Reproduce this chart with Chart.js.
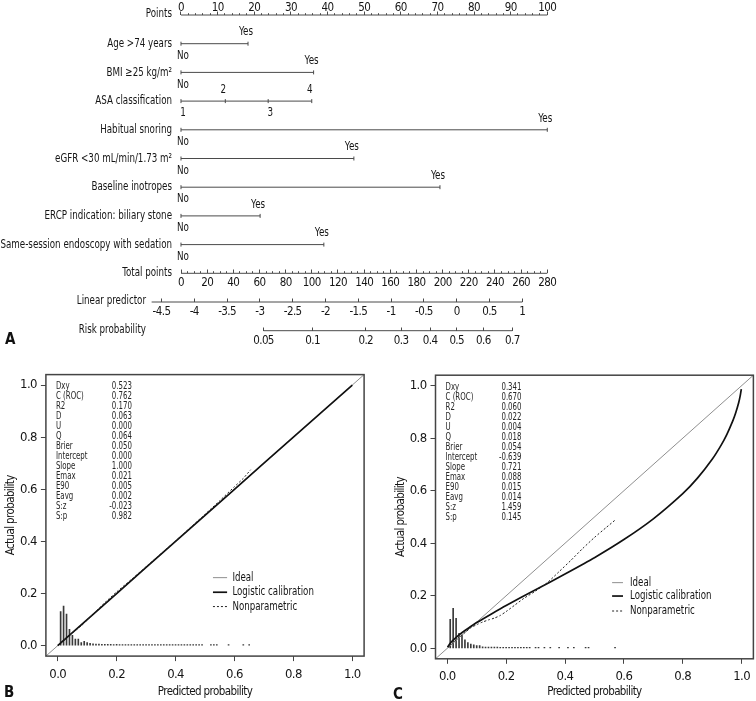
<!DOCTYPE html>
<html><head><meta charset="utf-8">
<script src="https://cdn.jsdelivr.net/npm/chart.js@4.4.1/dist/chart.umd.min.js"></script>
<style>
html,body{margin:0;padding:0;background:#fff;}
#wrap{position:relative;width:756px;height:701px;overflow:hidden;background:#fff;}
canvas{position:absolute;}
.pl{position:absolute;font-weight:bold;font-size:15px;font-family:'Liberation Sans Narrow','DejaVu Sans Condensed','Roboto Condensed',Arial,sans-serif;color:#111;line-height:16px;}
</style></head><body>
<div id="wrap">
<canvas id="cA" width="756" height="352" style="left:0px;top:0px"></canvas>
<canvas id="cB" width="380" height="341" style="left:0px;top:360px"></canvas>
<canvas id="cC" width="366" height="341" style="left:390px;top:360px"></canvas>
<div class="pl" style="left:5px;top:331px">A</div>
<div class="pl" style="left:4px;top:684px">B</div>
<div class="pl" style="left:393px;top:686px">C</div>
</div>
<script>
// ---------------- DATA: nomogram ----------------
const factorNames = ['Age >74 years', 'BMI \u226525 kg/m\u00b2', 'ASA classification', 'Habitual snoring',
  'eGFR <30 mL/min/1.73 m\u00b2', 'Baseline inotropes', 'ERCP indication: biliary stone', 'Same-session endoscopy with sedation'];
const factorLevels = [['No','Yes'],['No','Yes'],['1','2','3','4'],['No','Yes'],['No','Yes'],['No','Yes'],['No','Yes'],['No','Yes']];
const factorPoints = [[0,18.3],[0,36.2],[0,12.1,23.8,35.7],[0,100],[0,47.2],[0,70.7],[0,21.6],[0,39.0]];
const pointsTicks = [0,10,20,30,40,50,60,70,80,90,100];
const totalTicks = [0,20,40,60,80,100,120,140,160,180,200,220,240,260,280];
const lpTicks = [-4.5,-4,-3.5,-3,-2.5,-2,-1.5,-1,-0.5,0,0.5,1];
const lpTickLabels = ['-4.5','-4','-3.5','-3','-2.5','-2','-1.5','-1','-0.5','0','0.5','1'];
const riskTicks = [0.05,0.1,0.2,0.3,0.4,0.5,0.6,0.7];
const riskTickLabels = ['0.05','0.1','0.2','0.3','0.4','0.5','0.6','0.7'];
const lpRange = [-4.65, 1];
const riskRange = [0.05, 0.7];

// ---------------- DATA: calibration ----------------
const statNames = ['Dxy','C (ROC)','R2','D','U','Q','Brier','Intercept','Slope','Emax','E90','Eavg','S:z','S:p'];
const statsB = [0.523,0.762,0.170,0.063,0.000,0.064,0.050,0.000,1.000,0.021,0.005,0.002,-0.023,0.982];
const statsC = [0.341,0.670,0.060,0.022,0.004,0.018,0.054,-0.639,0.721,0.088,0.015,0.014,1.459,0.145];

const idealX = [-0.04, 1.04];
const idealY = [-0.04, 1.04];

const bLogX = [0.0, 0.1, 0.2, 0.4, 0.6, 0.8, 1.0];
const bLogY = [0.0, 0.1, 0.2, 0.4, 0.6, 0.8, 1.0];
const bNpX = [0.01,0.03,0.05,0.08,0.10,0.13,0.16,0.20,0.25,0.30,0.40,0.50,0.55,0.60,0.63,0.655];
const bNpY = [0.012,0.029,0.049,0.076,0.098,0.132,0.165,0.206,0.254,0.303,0.402,0.504,0.556,0.610,0.642,0.675];
const bHistX = [0.01,0.02,0.03,0.04,0.05,0.06,0.07,0.08,0.09,0.10,0.11,0.12,0.13,0.14,0.15,0.16,0.17,0.18,0.19,0.20,
  0.21,0.22,0.23,0.24,0.25,0.26,0.27,0.28,0.29,0.30,0.31,0.32,0.33,0.34,0.35,0.36,0.37,0.38,0.39,0.40,
  0.41,0.42,0.43,0.44,0.45,0.46,0.47,0.48,0.49,0.52,0.53,0.54,0.58,0.63,0.65];
const bHistY = [0.131,0.152,0.121,0.063,0.040,0.025,0.025,0.012,0.017,0.012,0.009,0.007,0.006,0.006,0.005,0.005,0.005,0.005,0.004,0.005,
  0.004,0.004,0.004,0.004,0.004,0.004,0.004,0.004,0.004,0.004,0.004,0.004,0.004,0.004,0.004,0.004,0.004,0.004,0.004,0.004,
  0.004,0.004,0.004,0.004,0.004,0.004,0.004,0.004,0.004,0.004,0.004,0.004,0.004,0.004,0.004];

const cLogX = [0.001,0.01,0.02,0.04,0.06,0.08,0.10,0.15,0.20,0.30,0.40,0.50,0.60,0.70,0.80,0.85,0.90,0.93,0.95,0.97,0.98,0.99,0.995,0.999];
const cLogY = [0.004,0.019,0.031,0.051,0.068,0.083,0.098,0.131,0.163,0.223,0.283,0.345,0.414,0.493,0.589,0.648,0.720,0.773,0.815,0.866,0.897,0.935,0.960,0.987];
const cNpX = [0.005,0.02,0.04,0.06,0.08,0.10,0.12,0.14,0.16,0.18,0.20,0.23,0.26,0.30,0.34,0.38,0.42,0.46,0.50,0.54,0.57];
const cNpY = [0.006,0.022,0.042,0.060,0.078,0.090,0.100,0.108,0.115,0.125,0.140,0.165,0.190,0.218,0.250,0.292,0.335,0.380,0.422,0.460,0.488];
const cHistX = [0.01,0.02,0.03,0.04,0.05,0.06,0.07,0.08,0.09,0.10,0.11,0.12,0.13,0.14,0.15,0.16,0.17,0.18,0.19,0.20,
  0.21,0.22,0.23,0.24,0.25,0.26,0.27,0.28,0.30,0.31,0.33,0.35,0.38,0.41,0.43,0.47,0.48,0.57];
const cHistY = [0.110,0.152,0.114,0.057,0.050,0.032,0.022,0.016,0.013,0.010,0.010,0.006,0.005,0.005,0.005,0.005,0.005,0.004,0.004,0.004,
  0.004,0.004,0.004,0.004,0.004,0.004,0.004,0.004,0.004,0.004,0.004,0.004,0.004,0.004,0.004,0.004,0.004,0.004];

// ---------------- rendering ----------------
const FONT = "'Liberation Sans Narrow','DejaVu Sans Condensed','Roboto Condensed',Arial,sans-serif";
const TXT = '#151515';
Chart.defaults.font.family = FONT;
Chart.defaults.color = TXT;
const logit = p => Math.log(p / (1 - p));
const zip = (xs, ys) => xs.map((x, i) => ({x: x, y: ys[i]}));

// narrow text: real text, horizontally compressed to imitate a condensed face
function fillNarrow(ctx, text, x, y, sx) {
  ctx.save(); ctx.translate(x, y); ctx.scale(sx, 1); ctx.fillText(text, 0, 0); ctx.restore();
}
// tighten the library's own tick/title text a little
const tightText = {
  id: 'tightText',
  beforeDraw(chart) { if ('letterSpacing' in chart.ctx) chart.ctx.letterSpacing = '-0.6px'; },
  afterDraw(chart) { if ('letterSpacing' in chart.ctx) chart.ctx.letterSpacing = '0px'; }
};

// ---- Nomogram ----
const LINE = '#4a4a4a';
function nomoAxis(min, max, ticks, labels, row, tl, pad) {
  return {
    type: 'linear', min: min, max: max, bounds: 'data',
    position: {y: row},
    afterBuildTicks: s => { s.ticks = ticks.map(v => ({value: v})); },
    afterFit: s => { s.height = 0; },
    grid: {display: true, drawOnChartArea: false, drawTicks: true, tickLength: tl, tickColor: LINE, tickWidth: 1},
    border: {display: false},
    ticks: {display: !!labels, autoSkip: false, maxRotation: 0, minRotation: 0, padding: pad,
      font: {size: 11.5}, color: TXT, callback: (v, i) => labels ? labels[i] : ''}
  };
}
function stepTicks(a, b, step) { const r = []; for (let v = a; v <= b + 1e-9; v += step) r.push(+v.toFixed(6)); return r; }

const nomoDatasets = [];
factorNames.forEach((name, i) => {
  nomoDatasets.push({
    label: name, levels: factorLevels[i], row: i + 1,
    data: factorPoints[i].map(p => ({x: p, y: i + 1})),
    xAxisID: 'xPts', yAxisID: 'y',
    borderColor: LINE, borderWidth: 1,
    pointStyle: 'line', rotation: 90, pointRadius: 2, pointBorderColor: LINE, pointBorderWidth: 1,
    clip: false
  });
});
const axisLine = (ax, a, b, row) => ({label: ax, data: [{x: a, y: row}, {x: b, y: row}], xAxisID: ax, yAxisID: 'y',
  borderColor: LINE, borderWidth: 1, pointRadius: 0, clip: false});
nomoDatasets.push(axisLine('xPts', pointsTicks[0], pointsTicks[pointsTicks.length - 1], 0));
nomoDatasets.push(axisLine('xTot', totalTicks[0], totalTicks[totalTicks.length - 1], 9));
nomoDatasets.push(axisLine('xLP', lpRange[0], lpRange[1], 10));
nomoDatasets.push(axisLine('xRisk', logit(riskRange[0]), logit(riskRange[1]), 11));

const axisNames = [['Points', 0, 22], ['Total points', 9, 22], ['Linear predictor', 10, -4], ['Risk probability', 11, -4]];
const nomoLabels = {
  id: 'nomoLabels',
  afterDatasetsDraw(chart) {
    const ctx = chart.ctx, ys = chart.scales.y, left = chart.chartArea.left;
    ctx.save();
    if ('letterSpacing' in ctx) ctx.letterSpacing = '0px';
    ctx.font = '12.5px ' + FONT; ctx.fillStyle = TXT; ctx.textBaseline = 'middle';
    ctx.textAlign = 'right';
    axisNames.forEach(a => fillNarrow(ctx, a[0], left + a[2], ys.getPixelForValue(a[1]) - 1, 0.775));
    chart.data.datasets.forEach(ds => { if (ds.levels) fillNarrow(ctx, ds.label, left + 22, ys.getPixelForValue(ds.row), 0.775); });
    ctx.textAlign = 'center';
    chart.data.datasets.forEach((ds, di) => {
      if (!ds.levels) return;
      chart.getDatasetMeta(di).data.forEach((pt, i) => {
        const above = i % 2 === 1;
        fillNarrow(ctx, ds.levels[i], pt.x - (above ? 2 : -2), pt.y + (above ? -11.5 : 12), 0.78);
      });
    });
    ctx.restore();
  }
};

new Chart(document.getElementById('cA'), {
  type: 'line',
  data: {datasets: nomoDatasets},
  options: {
    responsive: false, animation: false, devicePixelRatio: 1,
    layout: {padding: {left: 150, right: 206, top: 15, bottom: 21.3}, autoPadding: false},
    plugins: {legend: {display: false}, tooltip: {enabled: false}},
    scales: {
      y: {type: 'linear', min: 0, max: 11, reverse: true, display: false},
      xPts: nomoAxis(-8.463, 100.74, pointsTicks, pointsTicks.map(String), 0, -3.5, -10.6),
      xPtsMinor: nomoAxis(-8.463, 100.74, stepTicks(0, 100, 2), null, 0, -1.8, 0),
      xTot: nomoAxis(-23.70, 282.07, totalTicks, totalTicks.map(String), 9, -3.5, 5.9),
      xTotMinor: nomoAxis(-23.70, 282.07, stepTicks(0, 280, 5), null, 9, -1.8, 0),
      xLP: nomoAxis(-4.675, 1.422, lpTicks, lpTickLabels, 10, -3.5, 6.6),
      xRisk: nomoAxis(-4.675, 1.422, riskTicks.map(logit), riskTickLabels, 11, -3.5, 6.6)
    }
  },
  plugins: [tightText, nomoLabels]
});

// ---- Calibration plots ----
const calibExtras = {
  id: 'calibExtras',
  afterDraw(chart, args, o) {
    const ctx = chart.ctx, ca = chart.chartArea, xs = chart.scales.x, ys = chart.scales.y;
    ctx.save();
    if ('letterSpacing' in ctx) ctx.letterSpacing = '0px';
    // stats
    ctx.font = '10px ' + FONT; ctx.fillStyle = '#262626'; ctx.textBaseline = 'middle';
    o.names.forEach((n, i) => {
      const y = ca.top + 12 + i * 10;
      ctx.textAlign = 'left'; fillNarrow(ctx, n, ca.left + 10, y, 0.78);
      ctx.textAlign = 'right'; fillNarrow(ctx, o.values[i].toFixed(3), ca.left + 86, y, 0.78);
    });
    // legend
    ctx.font = '12.5px ' + FONT; ctx.fillStyle = TXT; ctx.textAlign = 'left';
    for (let i = 0; i < 3; i++) {
      const ds = chart.data.datasets[i];
      const y = ys.getPixelForValue(o.legY[i]);
      ctx.strokeStyle = ds.borderColor; ctx.lineWidth = ds.borderWidth;
      ctx.setLineDash(ds.borderDash || []);
      ctx.beginPath();
      ctx.moveTo(xs.getPixelForValue(o.legX[0]), y);
      ctx.lineTo(xs.getPixelForValue(o.legX[1]), y);
      ctx.stroke();
      ctx.setLineDash([]);
      fillNarrow(ctx, ds.label, xs.getPixelForValue(o.legX[2]), y, 0.77);
    }
    // box
    ctx.strokeStyle = '#444'; ctx.lineWidth = 1.5;
    ctx.strokeRect(ca.left, ca.top, ca.right - ca.left, ca.bottom - ca.top);
    ctx.restore();
  }
};
const probTicks = [0, 0.2, 0.4, 0.6, 0.8, 1.0];
function calib(id, d, g) {
  new Chart(document.getElementById(id), {
    type: 'line',
    data: {datasets: [
      {label: 'Ideal', data: zip(idealX, idealY), borderColor: '#8f8f8f', borderWidth: 1, pointRadius: 0, order: 2},
      {label: 'Logistic calibration', data: zip(d.logX, d.logY), borderColor: '#111', borderWidth: 1.7, pointRadius: 0, tension: 0.2, order: 1},
      {label: 'Nonparametric', data: zip(d.npX, d.npY), borderColor: '#222', borderWidth: 1, borderDash: [2, 2], pointRadius: 0, tension: 0.2, order: 0},
      {type: 'bar', label: 'hist', data: zip(d.hX, d.hY), backgroundColor: '#3a3a3a', borderWidth: 0, barThickness: 1, order: 3}
    ]},
    options: {
      responsive: false, animation: false, devicePixelRatio: 1,
      layout: {padding: {left: 0, top: g.top, right: g.right, bottom: 0}, autoPadding: false},
      plugins: {legend: {display: false}, tooltip: {enabled: false},
        calibExtras: {names: statNames, values: d.stats, legX: g.legX, legY: g.legY}},
      scales: {
        x: {type: 'linear', min: -0.04, max: 1.04, bounds: 'data', offset: false,
          afterBuildTicks: s => { s.ticks = probTicks.map(v => ({value: v})); },
          afterFit: s => { s.height = g.xh; },
          grid: {drawOnChartArea: false, drawTicks: true, tickLength: 5, tickColor: '#444', offset: false},
          border: {display: false},
          ticks: {padding: g.xpad, font: {size: 13}, color: TXT, autoSkip: false, maxRotation: 0, callback: v => v.toFixed(1)},
          title: {display: true, text: 'Predicted probability', font: {size: 11.5}, color: TXT, padding: {top: 0, bottom: 2.5}}},
        y: {type: 'linear', min: -0.04, max: 1.04, bounds: 'data',
          afterBuildTicks: s => { s.ticks = probTicks.map(v => ({value: v})); },
          afterFit: s => { s.width = g.yw; },
          grid: {drawOnChartArea: false, drawTicks: true, tickLength: 5, tickColor: '#444'},
          border: {display: false},
          ticks: {padding: 4, font: {size: 13}, color: TXT, autoSkip: false, callback: v => v.toFixed(1)},
          title: {display: true, text: 'Actual probability', font: {size: 11.5}, color: TXT, padding: {top: 4.5, bottom: 0}}}
      }
    },
    plugins: [tightText, calibExtras]
  });
}
calib('cB', {logX: bLogX, logY: bLogY, npX: bNpX, npY: bNpY, hX: bHistX, hY: bHistY, stats: statsB},
  {top: 14.6, right: 15.9, xh: 44.9, yw: 45.9, xpad: 6, legX: [0.527, 0.575, 0.593], legY: [0.261, 0.205, 0.150]});
calib('cC', {logX: cLogX, logY: cLogY, npX: cNpX, npY: cNpY, hX: cHistX, hY: cHistY, stats: statsC},
  {top: 15.2, right: 2.5, xh: 42.2, yw: 45.5, xpad: 5, legX: [0.560, 0.597, 0.621], legY: [0.250, 0.199, 0.142]});
</script>
</body></html>
